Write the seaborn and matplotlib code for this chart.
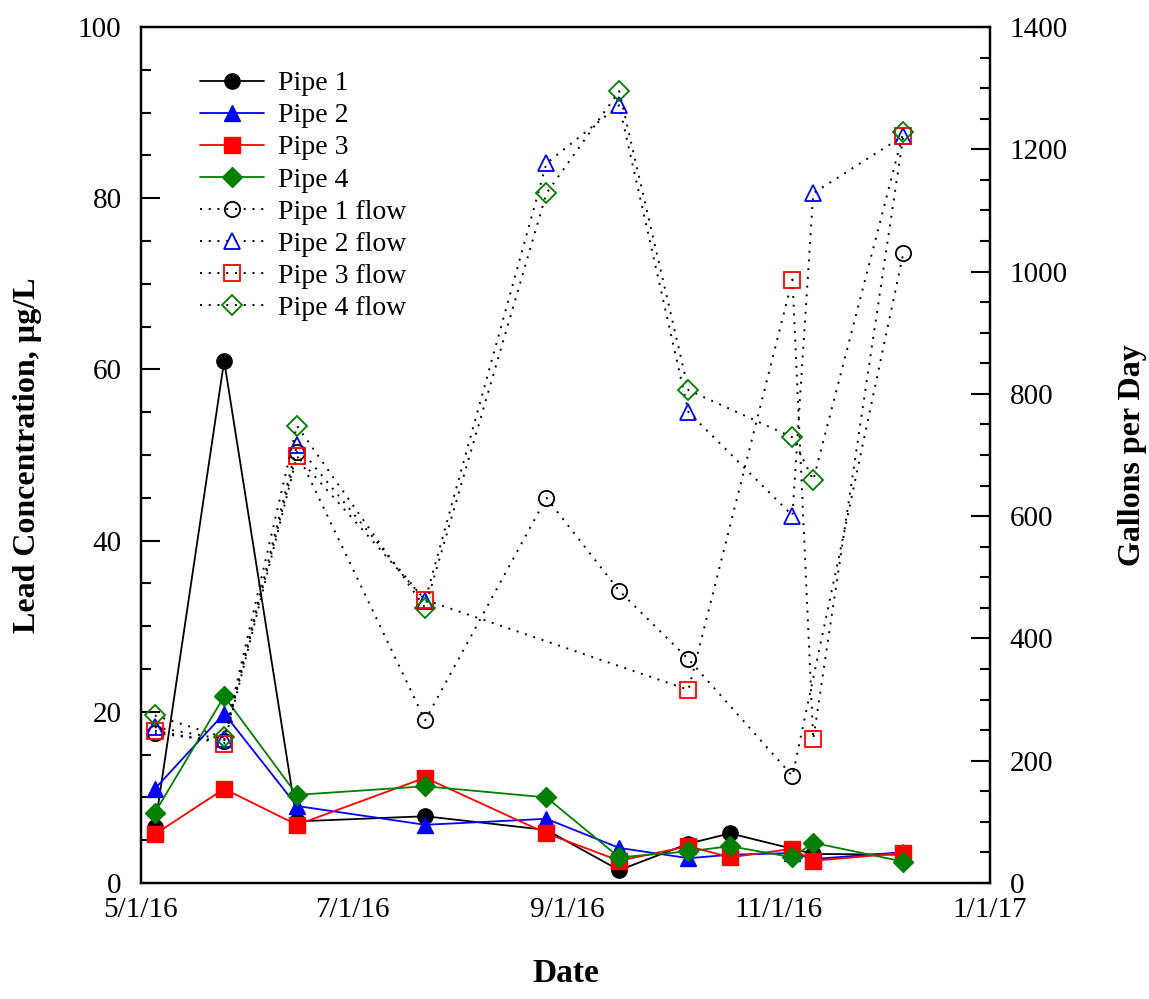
import numpy as np
import pandas as pd
import matplotlib
matplotlib.use("Agg")
import matplotlib.pyplot as plt
import matplotlib.dates as mdates
from matplotlib.ticker import MultipleLocator, FixedLocator, FuncFormatter
import seaborn as sns

# ── Data ──────────────────────────────────────────────────────────────────────
lead_dates = pd.to_datetime([
    "2016-05-05", "2016-05-25", "2016-06-15", "2016-07-22", "2016-08-26",
    "2016-09-16", "2016-10-06", "2016-10-18", "2016-11-05", "2016-11-11",
    "2016-12-07",
])
pipe1 = [6.5, 61.0, 7.2, 7.8, 6.2, 1.5, 4.6, 5.8, 4.0, 3.4, 3.3]
pipe2 = [11.0, 19.8, 9.0, 6.8, 7.5, 4.1, 2.9, 3.3, 3.5, 2.8, 3.6]
pipe3 = [5.7, 11.0, 6.8, 12.3, 5.8, 2.6, 4.3, 3.0, 4.0, 2.6, 3.5]
pipe4 = [8.2, 21.8, 10.3, 11.3, 10.0, 3.0, 3.7, 4.3, 3.0, 4.7, 2.5]

flow_dates = pd.to_datetime([
    "2016-05-05", "2016-05-25", "2016-06-15", "2016-07-22", "2016-08-26",
    "2016-09-16", "2016-10-06", "2016-11-05", "2016-11-11", "2016-12-07",
])
pipe1_flow = [245, 232, 705, 266, 630, 478, 366, 175, np.nan, 1030]
pipe2_flow = [255, 235, 716, 462, 1177, 1272, 770, 601, 1128, 1222]
pipe3_flow = [249, 228, 698, 463, np.nan, np.nan, 316, 987, 235, 1222]
pipe4_flow = [274, 238, 748, 450, 1128, 1295, 806, 729, 659, 1228]

names = ["Pipe 1", "Pipe 2", "Pipe 3", "Pipe 4"]
colors = ["black", "#0000ff", "#ff0000", "#007f00"]
markers = ["o", "^", "s", "D"]

# ── Style ─────────────────────────────────────────────────────────────────────
sns.set_style("white")
plt.rcParams["font.family"] = ["Liberation Serif", "DejaVu Serif"]
plt.rcParams["text.color"] = "black"
plt.rcParams["axes.labelcolor"] = "black"

fig = plt.figure(figsize=(11.49, 9.99), dpi=100)
ax = fig.add_axes([0.1227, 0.1161, 0.7389, 0.8569])
ax2 = ax.twinx()

# ── Lead concentration (left axis) ────────────────────────────────────────────
for name, vals, c, m in zip(names, [pipe1, pipe2, pipe3, pipe4], colors, markers):
    sns.lineplot(x=lead_dates, y=vals, ax=ax, color=c, marker=m,
                 markersize=11 if m != "D" else 10, markeredgecolor=c,
                 markerfacecolor=c, markeredgewidth=1, linewidth=1.3,
                 label=name, sort=False, estimator=None)

# ── Flow (right axis) ─────────────────────────────────────────────────────────
for name, vals, c, m in zip(names, [pipe1_flow, pipe2_flow, pipe3_flow, pipe4_flow],
                            colors, markers):
    s = pd.Series(vals, index=flow_dates).dropna()
    sns.lineplot(x=s.index, y=s.values, ax=ax2, color="black", marker=m,
                 markersize=11 if m != "D" else 10, markeredgecolor=c,
                 markerfacecolor="none", markeredgewidth=1.3, linewidth=1.4,
                 linestyle=(0, (1, 3.5)), label=f"{name} flow",
                 sort=False, estimator=None)

# ── Axes ─────────────────────────────────────────────────────────────────────
ax.set_xlim(mdates.date2num(pd.Timestamp("2016-05-01")),
            mdates.date2num(pd.Timestamp("2017-01-01")))
ax.set_ylim(0, 100)
ax2.set_ylim(0, 1400)

ax.xaxis.set_major_locator(mdates.MonthLocator(bymonth=[1, 3, 5, 7, 9, 11]))
ax.xaxis.set_minor_locator(FixedLocator(
    mdates.date2num(pd.date_range("2016-05-02", "2016-12-31", freq="14D"))))
ax.xaxis.set_major_formatter(FuncFormatter(
    lambda v, p: (lambda d: f"{d.month}/{d.day}/{d.year % 100}")(mdates.num2date(v))))

ax.yaxis.set_major_locator(MultipleLocator(20))
ax.yaxis.set_minor_locator(MultipleLocator(5))
ax2.yaxis.set_major_locator(MultipleLocator(200))
ax2.yaxis.set_minor_locator(MultipleLocator(50))

ax.tick_params(axis="both", which="both", direction="in", top=False, right=False,
               width=1.5, labelsize=21, colors="black")
ax.tick_params(axis="both", which="major", length=14, pad=10)
ax.tick_params(axis="both", which="minor", length=7)
ax.tick_params(axis="y", labelsize=21, pad=14)
ax2.tick_params(axis="y", which="both", direction="in", width=1.5,
                labelsize=21, pad=14, colors="black")
ax2.tick_params(axis="y", which="major", length=14)
ax2.tick_params(axis="y", which="minor", length=7)

for a in (ax, ax2):
    for sp in a.spines.values():
        sp.set_visible(True)
        sp.set_linewidth(1.6)
        sp.set_color("black")

ax.set_xlabel("Date", fontsize=24, fontweight="bold", color="black")
ax.set_ylabel("Lead Concentration, µg/L", fontsize=23, fontweight="bold", color="black")
ax2.set_ylabel("Gallons per Day", fontsize=23, fontweight="bold", color="black")
ax.xaxis.set_label_coords(0.5, -0.088)
ax.yaxis.set_label_coords(-0.117, 0.5)
ax2.yaxis.set_label_coords(1.151, 0.5)

# ── Legend ────────────────────────────────────────────────────────────────────
h1, l1 = ax.get_legend_handles_labels()
h2, l2 = ax2.get_legend_handles_labels()
if ax.get_legend() is not None:
    ax.get_legend().remove()
ax2.legend(h1 + h2, l1 + l2, loc="upper left", bbox_to_anchor=(0.04, 0.978),
           frameon=False, fontsize=20, labelspacing=0.24, handlelength=2.3,
           handletextpad=0.5, labelcolor="black")

fig.savefig("out.png", dpi=100)
plt.close(fig)
